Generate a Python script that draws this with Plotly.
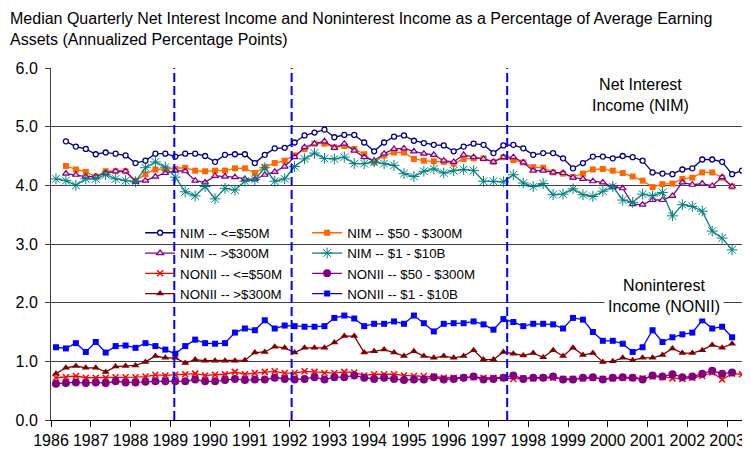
import pandas as pd
import plotly.graph_objects as go

# Quarters 1986Q1 .. 2003Q2, placed at the middle of each quarter on a year axis
quarters = pd.period_range("1986Q1", "2003Q2", freq="Q")
x_years = [q.year + (q.quarter - 0.5) / 4 for q in quarters]
year_ticks = list(range(1986, 2004))
event_years = [1989.1, 1992.05, 1997.47]

# Net interest income (NIM), percent of average earning assets
nim_le50m = [None,
             4.75, 4.66, 4.62, 4.53, 4.56, 4.54, 4.51, 4.38, 4.42, 4.54, 4.54, 4.49, 4.54, 4.54, 4.50, 4.40,
             4.52, 4.53, 4.53, 4.38, 4.52, 4.63, 4.64, 4.73, 4.85, 4.90, 4.95, 4.82, 4.86, 4.86, 4.73, 4.58,
             4.73, 4.83, 4.85, 4.76, 4.72, 4.69, 4.68, 4.58, 4.66, 4.71, 4.69, 4.55, 4.68, 4.69, 4.63, 4.52,
             4.55, 4.55, 4.46, 4.29, 4.38, 4.49, 4.49, 4.46, 4.50, 4.48, 4.42, 4.22, 4.20, 4.19, 4.27, 4.29,
             4.44, 4.44, 4.40, 4.19, 4.25]
nim_50_300m = [None,
               4.33, 4.27, 4.23, 4.15, 4.24, 4.24, 4.24, 4.08, 4.19, 4.27, 4.28, 4.28, 4.30, 4.25, 4.24, 4.25,
               4.25, 4.29, 4.29, 4.21, 4.31, 4.38, 4.42, 4.51, 4.62, 4.71, 4.71, 4.65, 4.67, 4.62, 4.53, 4.39,
               4.51, 4.56, 4.56, 4.45, 4.42, 4.41, 4.40, 4.37, 4.45, 4.46, 4.46, 4.40, 4.48, 4.43, 4.39, 4.31,
               4.30, 4.22, 4.20, 4.14, 4.20, 4.27, 4.28, 4.25, 4.21, 4.15, 4.08, 3.97, 4.02, 4.03, 4.11, 4.13,
               4.22, 4.22, 4.13, 3.98, None]
nim_gt300m = [None,
              4.20, 4.18, 4.15, 4.15, 4.21, 4.24, 4.24, 4.06, 4.08, 4.15, 4.21, 4.25, 4.24, 4.08, 4.05, 4.16,
              4.15, 4.14, 4.11, 4.10, 4.18, 4.23, 4.32, 4.48, 4.65, 4.71, 4.75, 4.64, 4.71, 4.59, 4.48, 4.42,
              4.54, 4.62, 4.63, 4.58, 4.54, 4.52, 4.42, 4.40, 4.52, 4.48, 4.45, 4.40, 4.48, 4.48, 4.39, 4.25,
              4.25, 4.22, 4.21, 4.13, 4.11, 4.07, 4.05, 3.97, 3.95, 3.68, 3.67, 3.75, 3.75, 3.82, 4.05, 4.01,
              4.03, 3.99, 4.14, 3.98, None]
nim_1_10b = [4.11, 4.08, 4.00, 4.11, 4.11, 4.18, 4.11, 4.08, 4.06, 4.30, 4.40, 4.31, 4.14, 3.89, 3.82, 3.98,
             3.77, 3.95, 3.92, 4.07, 4.10, 4.30, 4.07, 4.11, 4.32, 4.45, 4.55, 4.46, 4.45, 4.48, 4.37, 4.37,
             4.40, 4.37, 4.34, 4.20, 4.15, 4.24, 4.28, 4.21, 4.25, 4.27, 4.25, 4.07, 4.07, 4.06, 4.18, 4.04,
             3.98, 4.03, 3.84, 3.85, 3.94, 3.84, 3.81, 3.90, 3.98, 3.75, 3.71, 3.85, 3.82, 3.88, 3.48, 3.67,
             3.64, 3.56, 3.22, 3.10, 2.90, None]

# Noninterest income (NONII)
nonii_le50m = [0.72, 0.73, 0.75, 0.72, 0.72, 0.72, 0.73, 0.73, 0.73, 0.74, 0.77, 0.76, 0.77, 0.78, 0.79, 0.76,
               0.77, 0.78, 0.82, 0.78, 0.80, 0.82, 0.83, 0.80, 0.80, 0.83, 0.82, 0.80, 0.80, 0.82, 0.81, 0.76,
               0.78, 0.78, 0.78, 0.76, 0.75, 0.75, 0.74, 0.72, 0.72, 0.72, 0.73, 0.72, 0.72, 0.72, 0.70, 0.71,
               0.71, 0.72, 0.72, 0.70, 0.70, 0.71, 0.72, 0.70, 0.71, 0.72, 0.72, 0.71, 0.74, 0.73, 0.71, 0.70,
               0.72, 0.75, 0.81, 0.69, 0.79, 0.78]
nonii_50_300m = [0.62, 0.63, 0.64, 0.63, 0.64, 0.63, 0.66, 0.64, 0.64, 0.65, 0.66, 0.66, 0.66, 0.66, 0.69, 0.66,
                 0.66, 0.68, 0.70, 0.68, 0.69, 0.69, 0.72, 0.70, 0.69, 0.70, 0.73, 0.69, 0.73, 0.73, 0.76, 0.72,
                 0.70, 0.72, 0.70, 0.68, 0.69, 0.69, 0.73, 0.69, 0.70, 0.72, 0.74, 0.69, 0.70, 0.72, 0.76, 0.70,
                 0.72, 0.72, 0.74, 0.69, 0.69, 0.72, 0.73, 0.69, 0.72, 0.73, 0.72, 0.69, 0.76, 0.74, 0.78, 0.73,
                 0.74, 0.79, 0.84, 0.79, 0.81, None]
nonii_gt300m = [0.79, 0.89, 0.92, 0.89, 0.89, 0.82, 0.91, 0.92, 0.93, 0.99, 1.09, 1.06, 1.06, 0.97, 1.03, 1.01,
                1.01, 1.01, 1.01, 1.02, 1.15, 1.16, 1.25, 1.23, 1.15, 1.23, 1.23, 1.23, 1.32, 1.43, 1.43, 1.15,
                1.17, 1.20, 1.15, 1.09, 1.17, 1.09, 1.06, 1.09, 1.06, 1.09, 1.19, 1.03, 1.03, 1.16, 1.13, 1.10,
                1.14, 1.07, 1.19, 1.09, 1.23, 1.11, 1.14, 0.99, 1.00, 1.06, 1.02, 1.06, 1.06, 1.11, 1.22, 1.14,
                1.14, 1.19, 1.28, 1.23, 1.30, None]
nonii_1_10b = [1.24, 1.22, 1.31, 1.16, 1.33, 1.15, 1.26, 1.27, 1.23, 1.31, 1.26, 1.20, 1.13, 1.26, 1.37, 1.31,
               1.30, 1.31, 1.49, 1.56, 1.53, 1.70, 1.56, 1.61, 1.60, 1.59, 1.59, 1.60, 1.74, 1.78, 1.73, 1.60,
               1.64, 1.64, 1.68, 1.64, 1.78, 1.65, 1.51, 1.64, 1.65, 1.65, 1.68, 1.63, 1.54, 1.72, 1.67, 1.60,
               1.64, 1.64, 1.63, 1.56, 1.74, 1.71, 1.50, 1.35, 1.35, 1.30, 1.16, 1.24, 1.53, 1.33, 1.41, 1.46,
               1.49, 1.70, 1.56, 1.59, 1.41, None]

FONT = "Liberation Sans, Arial, sans-serif"

# name, values, line colour, marker, legend column
series = [
    ("NIM -- <=$50M", nim_le50m, "#000080",
     dict(symbol="circle", size=5, color="white", line=dict(color="#000080", width=1.3)), "legend"),
    ("NIM -- $50 - $300M", nim_50_300m, "#FF6600",
     dict(symbol="square", size=6, color="#FF6600"), "legend2"),
    ("NIM -- >$300M", nim_gt300m, "#800080",
     dict(symbol="triangle-up", size=6, color="#F0D0F0", line=dict(color="#800080", width=1.2)), "legend"),
    ("NIM -- $1 - $10B", nim_1_10b, "#008080",
     dict(symbol="asterisk-open", size=9, line=dict(color="#339966", width=1)), "legend2"),
    ("NONII -- <=$50M", nonii_le50m, "#FF0000",
     dict(symbol="x-thin-open", size=6, line=dict(color="#FF0000", width=1.5)), "legend"),
    ("NONII -- $50 - $300M", nonii_50_300m, "#800080",
     dict(symbol="circle", size=8, color="#800080"), "legend2"),
    ("NONII -- >$300M", nonii_gt300m, "#800000",
     dict(symbol="triangle-up", size=7, color="#800000"), "legend"),
    ("NONII -- $1 - $10B", nonii_1_10b, "#0000FF",
     dict(symbol="square", size=6, color="#0000FF"), "legend2"),
]

fig = go.Figure()
for name, values, color, marker, leg in series:
    fig.add_trace(go.Scatter(x=x_years, y=values, name=name, mode="lines+markers",
                             line=dict(color=color, width=1.3), marker=marker,
                             legend=leg, connectgaps=False))

# white patch hiding the 3.0 gridline behind the legend
fig.add_shape(type="rect", xref="paper", yref="y", x0=0.1365, x1=0.6207, y0=2.9, y1=3.1,
              fillcolor="white", line=dict(width=0), layer="between")

for yr in event_years:
    fig.add_shape(type="line", xref="x", yref="paper", x0=yr, x1=yr, y0=0, y1=1,
                  line=dict(color="#0000FF", width=2, dash="9px,4px"), layer="above")

fig.add_annotation(text="Median Quarterly Net Interest Income and Noninterest Income as a Percentage of Average Earning"
                        "<br>Assets (Annualized Percentage Points)",
                   xref="paper", yref="paper", x=-0.0618, y=1.1705, xanchor="left", yanchor="top",
                   align="left", showarrow=False, font=dict(family=FONT, size=16, color="black"))
fig.add_annotation(text="Net Interest<br>Income (NIM)", xref="paper", yref="paper",
                   x=0.8477, y=0.923, xanchor="center", yanchor="middle", showarrow=False,
                   font=dict(family=FONT, size=16, color="black"))
fig.add_annotation(text="Noninterest<br>Income (NONII)", xref="paper", yref="paper",
                   x=0.881, y=0.352, xanchor="center", yanchor="middle", showarrow=False,
                   bgcolor="white", borderpad=3, font=dict(family=FONT, size=16, color="black"))

legend_style = dict(bgcolor="rgba(0,0,0,0)", font=dict(family=FONT, size=13.3, color="black"),
                    xanchor="left", yanchor="top", orientation="v", tracegroupgap=0)

# the page body adds an 8px margin, so the figure is 16px smaller than the window
fig.update_layout(
    width=742, height=444,
    margin=dict(l=43, r=3, t=60, b=32),
    paper_bgcolor="white", plot_bgcolor="white",
    font=dict(family=FONT, color="black"),
    legend=dict(x=0.128, y=0.575, **legend_style),
    legend2=dict(x=0.368, y=0.575, **legend_style),
    xaxis=dict(range=[1986, 2003.5], tickvals=year_ticks, ticktext=[str(y) for y in year_ticks],
               showgrid=False, zeroline=False, showline=True, linecolor="black", linewidth=1,
               ticks="outside", ticklen=6, tickcolor="black", tickfont=dict(family=FONT, size=16)),
    yaxis=dict(range=[0, 6], dtick=1, tickformat=".1f", showgrid=True, gridcolor="#404040", gridwidth=1,
               zeroline=False, showline=True, linecolor="#404040", linewidth=1,
               ticks="outside", ticklen=5, tickcolor="#404040", ticklabelstandoff=4,
               tickfont=dict(family=FONT, size=16)),
)

fig.write_html("out.html")
